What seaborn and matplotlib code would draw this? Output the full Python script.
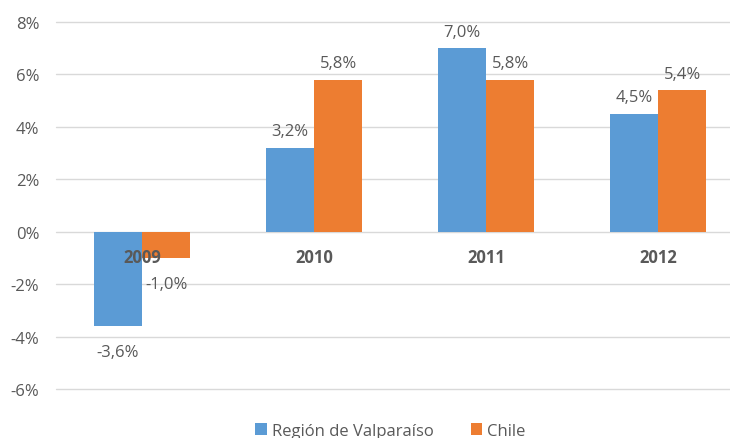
import matplotlib
matplotlib.use("Agg")
import matplotlib.pyplot as plt
import matplotlib.transforms as mtransforms
import seaborn as sns
import pandas as pd
from matplotlib.patches import Patch

years = ["2009", "2010", "2011", "2012"]
region_vals = [-3.6, 3.2, 7.0, 4.5]
chile_vals = [-1.0, 5.8, 5.8, 5.4]
series_names = ["Región de Valparaíso", "Chile"]
yticks = [-6, -4, -2, 0, 2, 4, 6, 8]

colors = ["#5B9BD5", "#ED7D31"]
text_color = "#595959"

sns.set_theme(style="white")
plt.rcParams["font.family"] = ["Open Sans", "DejaVu Sans"]

df = pd.DataFrame({
    "year": years * 2,
    "value": region_vals + chile_vals,
    "series": [series_names[0]] * 4 + [series_names[1]] * 4,
})

fig = plt.figure(figsize=(7.30, 4.39), dpi=100)
ax = fig.add_axes([56 / 730, 1 - 390 / 439, 674 / 730, 367 / 439])

sns.barplot(data=df, x="year", y="value", hue="series", palette=colors,
            width=0.56, gap=0, ax=ax, legend=False, saturation=1,
            edgecolor="none", linewidth=0)

ax.set_ylim(-6, 8)
ax.set_xlim(-0.5, 3.5 - 14 / 172)
ax.set_yticks(yticks)
ax.set_yticklabels([f"{t}%" for t in yticks], fontsize=12, color=text_color)
ax.tick_params(axis="y", length=0, pad=12)
ax.set_xticks([])
ax.set_xlabel("")
ax.set_ylabel("")
for s in ax.spines.values():
    s.set_visible(False)
ax.yaxis.grid(True, color="#D9D9D9", linewidth=1)
for gl in ax.get_ygridlines():
    gl.set_clip_on(False)
ax.set_axisbelow(True)

for cont in ax.containers:
    vals = list(cont.datavalues)
    pos_labels = [f"{v:.1f}%".replace(".", ",") if v >= 0 else "" for v in vals]
    neg_labels = [f"{v:.1f}%".replace(".", ",") if v < 0 else "" for v in vals]
    ax.bar_label(cont, labels=pos_labels, padding=6, fontsize=12, color=text_color)
    ax.bar_label(cont, labels=neg_labels, padding=13, fontsize=12, color=text_color)

trans = mtransforms.offset_copy(ax.transData, fig=fig, x=0, y=-25, units="dots")
for i, y in enumerate(years):
    ax.text(i, 0, y, transform=trans, ha="center", va="center",
            fontsize=12, fontweight="bold", color=text_color, zorder=10)

handles = [Patch(facecolor=c, edgecolor="none") for c in colors]
fig.legend(handles, series_names, loc="center", bbox_to_anchor=(0.535, 1 - 432 / 439),
           ncol=2, frameon=False, fontsize=12, labelcolor=text_color,
           handlelength=0.7, handleheight=0.7, handletextpad=0.3, columnspacing=2.2)

fig.savefig("out.png", dpi=100)
